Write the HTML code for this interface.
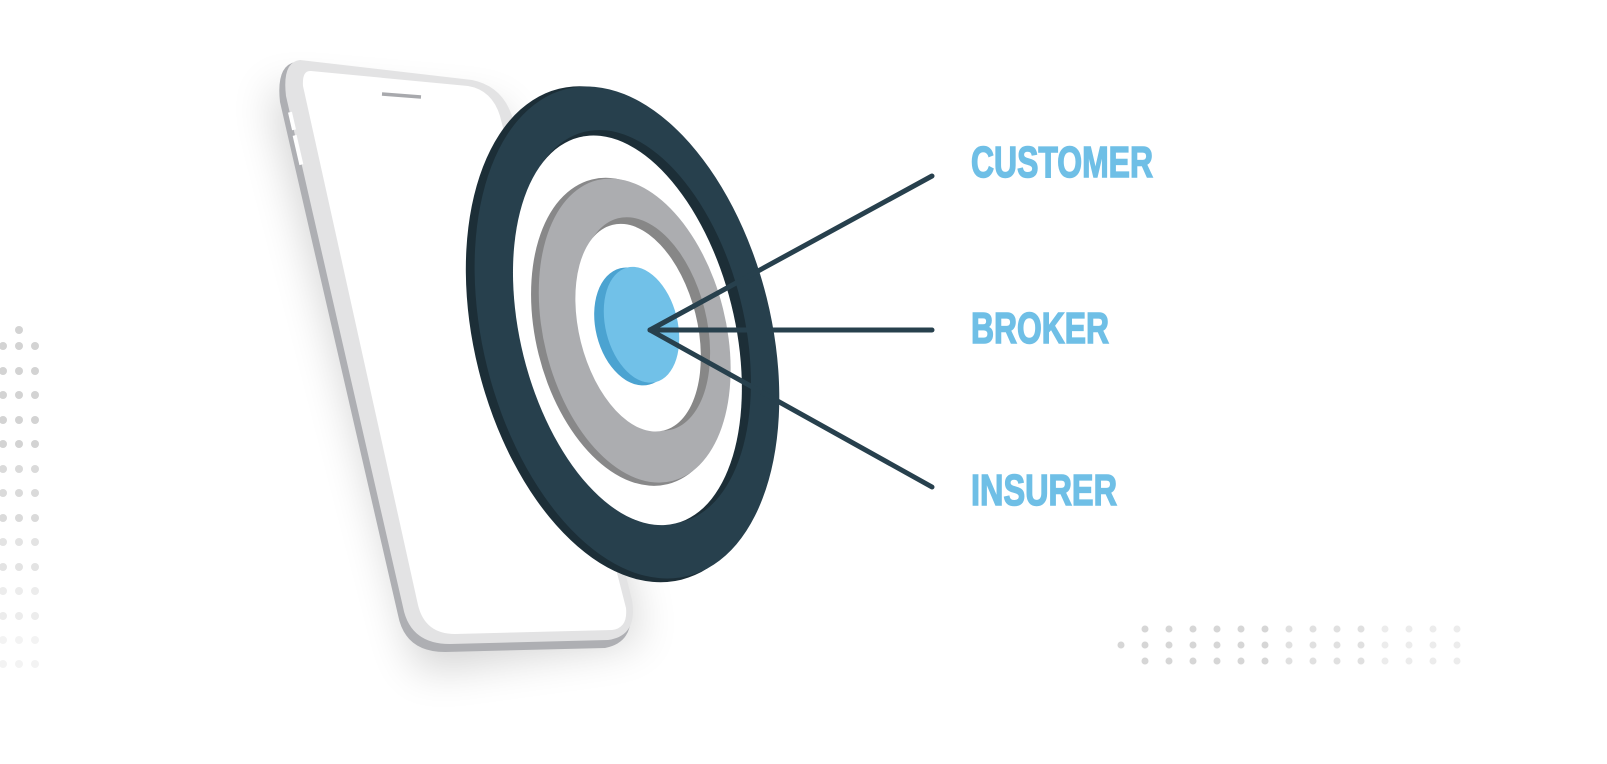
<!DOCTYPE html>
<html><head><style>html,body{margin:0;padding:0;background:#fff;}</style></head>
<body>
<svg width="1607" height="759" viewBox="0 0 1607 759" xmlns="http://www.w3.org/2000/svg">
<defs>
<filter id="sh" x="-50%" y="-50%" width="200%" height="200%"><feGaussianBlur stdDeviation="22"/></filter>
</defs>
<g fill="#d3d3d3">
<circle cx="19" cy="330" r="4"/>
</g>
<g>
<g fill="#d3d3d3"><circle cx="3" cy="346" r="4"/><circle cx="19" cy="346" r="4"/><circle cx="35" cy="346" r="4"/>
<circle cx="3" cy="371" r="4"/><circle cx="19" cy="371" r="4"/><circle cx="35" cy="371" r="4"/>
<circle cx="3" cy="395" r="4"/><circle cx="19" cy="395" r="4"/><circle cx="35" cy="395" r="4"/>
<circle cx="3" cy="420" r="4"/><circle cx="19" cy="420" r="4"/><circle cx="35" cy="420" r="4"/>
<circle cx="3" cy="444" r="4"/><circle cx="19" cy="444" r="4"/><circle cx="35" cy="444" r="4"/></g>
<g fill="#dadada"><circle cx="3" cy="469" r="4"/><circle cx="19" cy="469" r="4"/><circle cx="35" cy="469" r="4"/>
<circle cx="3" cy="493" r="4"/><circle cx="19" cy="493" r="4"/><circle cx="35" cy="493" r="4"/>
<circle cx="3" cy="518" r="4"/><circle cx="19" cy="518" r="4"/><circle cx="35" cy="518" r="4"/></g>
<g fill="#e3e3e3"><circle cx="3" cy="542" r="4"/><circle cx="19" cy="542" r="4"/><circle cx="35" cy="542" r="4"/>
<circle cx="3" cy="567" r="4"/><circle cx="19" cy="567" r="4"/><circle cx="35" cy="567" r="4"/></g>
<g fill="#ececec"><circle cx="3" cy="591" r="4"/><circle cx="19" cy="591" r="4"/><circle cx="35" cy="591" r="4"/>
<circle cx="3" cy="616" r="4"/><circle cx="19" cy="616" r="4"/><circle cx="35" cy="616" r="4"/></g>
<g fill="#f3f3f3"><circle cx="3" cy="640" r="4"/><circle cx="19" cy="640" r="4"/><circle cx="35" cy="640" r="4"/>
<circle cx="3" cy="664" r="4"/><circle cx="19" cy="664" r="4"/><circle cx="35" cy="664" r="4"/></g>
</g>
<g fill="#d6d6d6">
<circle cx="1121" cy="645" r="3.5"/>
<circle cx="1145" cy="629" r="3.5"/><circle cx="1145" cy="645" r="3.5"/><circle cx="1145" cy="661" r="3.5"/>
<circle cx="1169" cy="629" r="3.5"/><circle cx="1169" cy="645" r="3.5"/><circle cx="1169" cy="661" r="3.5"/>
<circle cx="1193" cy="629" r="3.5"/><circle cx="1193" cy="645" r="3.5"/><circle cx="1193" cy="661" r="3.5"/>
<circle cx="1217" cy="629" r="3.5"/><circle cx="1217" cy="645" r="3.5"/><circle cx="1217" cy="661" r="3.5"/>
<circle cx="1241" cy="629" r="3.5"/><circle cx="1241" cy="645" r="3.5"/><circle cx="1241" cy="661" r="3.5"/>
<circle cx="1265" cy="629" r="3.5"/><circle cx="1265" cy="645" r="3.5"/><circle cx="1265" cy="661" r="3.5"/>
</g>
<g fill="#e0e0e0">
<circle cx="1289" cy="629" r="3.5"/><circle cx="1289" cy="645" r="3.5"/><circle cx="1289" cy="661" r="3.5"/>
<circle cx="1313" cy="629" r="3.5"/><circle cx="1313" cy="645" r="3.5"/><circle cx="1313" cy="661" r="3.5"/>
<circle cx="1337" cy="629" r="3.5"/><circle cx="1337" cy="645" r="3.5"/><circle cx="1337" cy="661" r="3.5"/>
<circle cx="1361" cy="629" r="3.5"/><circle cx="1361" cy="645" r="3.5"/><circle cx="1361" cy="661" r="3.5"/>
</g>
<g fill="#ececec">
<circle cx="1385" cy="629" r="3.5"/><circle cx="1385" cy="645" r="3.5"/><circle cx="1385" cy="661" r="3.5"/>
<circle cx="1409" cy="629" r="3.5"/><circle cx="1409" cy="645" r="3.5"/><circle cx="1409" cy="661" r="3.5"/>
<circle cx="1433" cy="629" r="3.5"/><circle cx="1433" cy="645" r="3.5"/><circle cx="1433" cy="661" r="3.5"/>
<circle cx="1457" cy="629" r="3.5"/><circle cx="1457" cy="645" r="3.5"/><circle cx="1457" cy="661" r="3.5"/>
</g>
<path d="M270 90 L500 110 L640 640 L420 670 Z" fill="#000" opacity="0.18" filter="url(#sh)"/>
<path d="M295 62 L470 82 Q500 88 510 118 L630 605 Q636 642 605 648 L445 652 Q405 652 398 615 L280 102 Q276 66 295 62 Z" fill="#aeafb3"/>
<path d="M300 60 L472 80 Q502 86 512 116 L632 600 Q638 636 608 640 L450 644 Q410 644 403 607 L286 96 Q282 62 300 60 Z" fill="#e3e3e4"/>
<path d="M311 71 L468 86 Q492 90 500 116 L626 608 Q628 628 612 630 L455 634 Q425 634 418 605 L303 86 Q302 70 311 71 Z" fill="#fff"/>
<line x1="382" y1="94" x2="421" y2="97" stroke="#a8a9ad" stroke-width="3.5"/>
<rect x="290" y="112" width="4" height="18" fill="#fff" transform="rotate(-13 292 121)"/>
<rect x="296" y="135" width="4" height="30" fill="#fff" transform="rotate(-13 298 150)"/>
<g transform="rotate(-14 625 333)">
<ellipse cx="620" cy="333" rx="146" ry="253" fill="#1c2e37"/>
<ellipse cx="627" cy="333" rx="144" ry="251" fill="#27404d"/>
<ellipse cx="634" cy="329" rx="111" ry="201" fill="#1c2e37"/>
<ellipse cx="628" cy="331" rx="107" ry="199" fill="#fff"/>
<ellipse cx="630" cy="333" rx="94" ry="157" fill="#888889"/>
<ellipse cx="635" cy="333" rx="91" ry="155" fill="#acadb0"/>
<ellipse cx="646" cy="329" rx="62" ry="109" fill="#878787"/>
<ellipse cx="639" cy="331" rx="59" ry="106" fill="#fff"/>
<ellipse cx="636" cy="329" rx="39" ry="60" fill="#4ba3d1"/>
<ellipse cx="643" cy="329" rx="36" ry="59" fill="#71c1e8"/>
</g>
<g stroke="#27404d" stroke-width="5" stroke-linecap="round">
<line x1="650" y1="330" x2="932" y2="176"/>
<line x1="650" y1="330" x2="932" y2="330"/>
<line x1="650" y1="330" x2="932" y2="487"/>
</g>
<g font-family="'Liberation Sans', sans-serif" font-weight="bold" font-size="44" fill="#6fbfe6" stroke="#6fbfe6" stroke-width="1.5">
<text x="971" y="177" textLength="182" lengthAdjust="spacingAndGlyphs">CUSTOMER</text>
<text x="971" y="343" textLength="138" lengthAdjust="spacingAndGlyphs">BROKER</text>
<text x="971" y="505" textLength="146" lengthAdjust="spacingAndGlyphs">INSURER</text>
</g>
</svg>
</body></html>
